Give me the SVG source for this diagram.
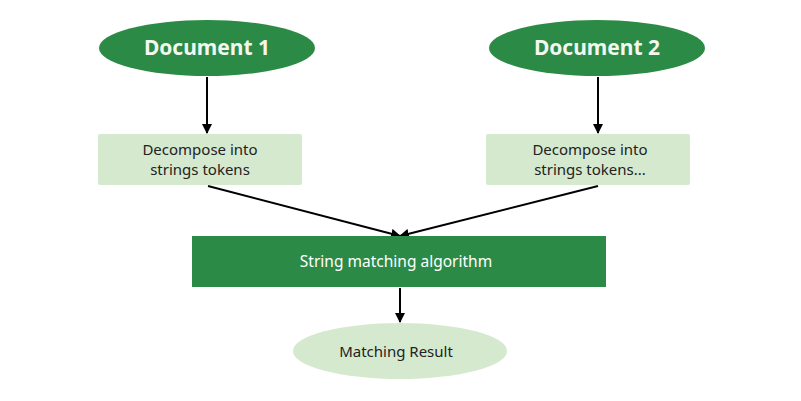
<svg xmlns="http://www.w3.org/2000/svg" width="801" height="401" viewBox="0 0 801 401">
<defs>
<style>
.dark{fill:#2b8a46}
.light{fill:#d5e9cf}
.t{font-family:"Noto Sans","Open Sans",sans-serif;font-size:15px;fill:#222;text-anchor:middle}
.h{font-family:"Noto Sans","Open Sans",sans-serif;font-size:21px;font-weight:bold;fill:#f2f8ef;text-anchor:middle}
.w{font-family:"Noto Sans","Open Sans",sans-serif;font-size:15.5px;fill:#fff;text-anchor:middle}
.c{stroke:#000;stroke-width:2;fill:none;marker-end:url(#a)}
</style>
<marker id="a" viewBox="0 0 10 10" refX="9" refY="5" markerWidth="5" markerHeight="5" orient="auto"><path d="M0,0L10,5L0,10z" fill="#000"/></marker>
</defs>
<rect width="801" height="401" fill="#fff"/>
<g id="connectors">
<path class="c" d="M207,77V133"/>
<path class="c" d="M598,77V133"/>
<path class="c" d="M208,186L400,236"/>
<path class="c" d="M598,186L400,236"/>
<path class="c" d="M400,288V322"/>
</g>
<g id="doc1"><ellipse class="dark" cx="207" cy="48" rx="108" ry="28"/><text class="h" x="207" y="55">Document 1</text></g>
<g id="doc2"><ellipse class="dark" cx="597" cy="48" rx="108" ry="28"/><text class="h" x="597" y="55">Document 2</text></g>
<g id="dec1"><rect class="light" x="98" y="134" width="204" height="51" rx="2"/><text class="t" x="200" y="155">Decompose into</text><text class="t" x="200" y="175">strings tokens</text></g>
<g id="dec2"><rect class="light" x="486" y="134" width="204" height="51" rx="2"/><text class="t" x="590" y="155">Decompose into</text><text class="t" x="590" y="175">strings tokens...</text></g>
<g id="algo"><rect class="dark" x="192" y="236" width="414" height="51"/><text class="w" x="396" y="267">String matching algorithm</text></g>
<g id="result"><ellipse class="light" cx="400" cy="351" rx="107" ry="28"/><text class="t" x="396" y="357">Matching Result</text></g>
</svg>
